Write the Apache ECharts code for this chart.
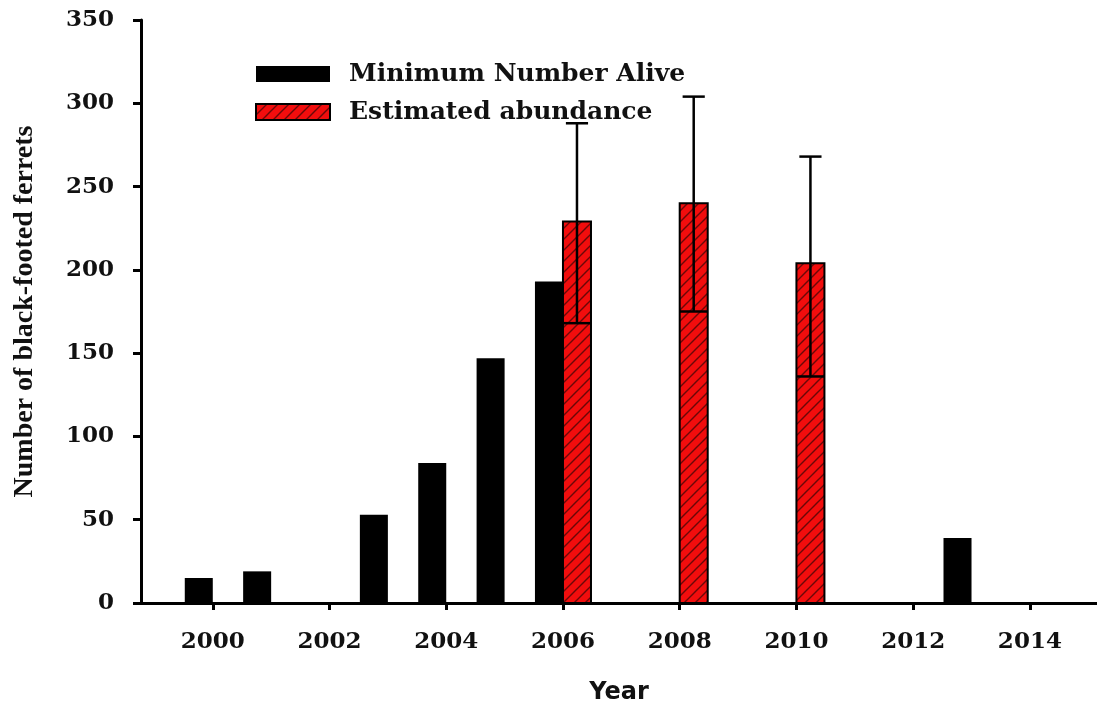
<!DOCTYPE html>
<html>
<head>
<meta charset="utf-8">
<title>Black-footed ferrets</title>
<script src="https://cdn.jsdelivr.net/npm/echarts@6/dist/echarts.min.js"></script>
<style>
  html, body { margin: 0; padding: 0; background: #fff; }
  #chart { width: 1097px; height: 709px; }
</style>
</head>
<body>
<div id="chart"></div>
<script>
// Minimum number alive (black bars, drawn just left of the year)
const mnaYears = [2000, 2001, 2003, 2004, 2005, 2006, 2013];
const mnaValues = [15, 19, 53, 84, 147, 193, 39];

// Estimated abundance (hatched red bars, drawn just right of the year) with error limits
const estYears = [2006, 2008, 2010];
const estValues = [229, 240, 204];
const estUpper = [288, 304, 268];
const estLower = [168, 175, 136];

const yearTicks = [2000, 2002, 2004, 2006, 2008, 2010, 2012, 2014];

const BAR_W = 0.48;   // bar width in years
const CAP_W = 0.38;   // upper cap width in years

// red fill with diagonal hatching
function hatchPattern() {
  const s = 11;
  const c = document.createElement('canvas');
  c.width = s; c.height = s;
  const g = c.getContext('2d');
  g.fillStyle = '#f20d0d';
  g.fillRect(0, 0, s, s);
  g.strokeStyle = '#6a0808';
  g.lineWidth = 1.4;
  g.beginPath();
  g.moveTo(-1, s + 1); g.lineTo(s + 1, -1);
  g.moveTo(-1, 1); g.lineTo(1, -1);
  g.moveTo(s - 1, s + 1); g.lineTo(s + 1, s - 1);
  g.stroke();
  return { image: c, repeat: 'repeat' };
}
const hatch = hatchPattern();

const chart = echarts.init(document.getElementById('chart'));

const serif = '"Liberation Serif", "Times New Roman", serif';
const wideSerif = '"DejaVu Serif", serif';

chart.setOption({
  backgroundColor: '#fff',
  animation: false,
  grid: { left: 141, right: 0, top: 20, bottom: 106, containLabel: false, outerBoundsMode: 'none' },
  legend: {
    orient: 'vertical',
    left: 250,
    top: 56,
    itemWidth: 74,
    itemHeight: 16,
    itemGap: 12,
    icon: 'rect',
    selectedMode: false,
    textStyle: {
      fontFamily: wideSerif, fontWeight: 'bold', fontSize: 25,
      color: '#111', lineHeight: 26, padding: [0, 0, 0, 14]
    },
    data: [
      { name: 'Minimum Number Alive', itemStyle: { color: '#000' } },
      { name: 'Estimated abundance', itemStyle: { color: hatch, borderColor: '#000', borderWidth: 2 } }
    ]
  },
  xAxis: {
    type: 'value',
    min: 1998.77,
    max: 2015.15,
    name: 'Year',
    nameLocation: 'middle',
    nameGap: 78,
    nameTextStyle: { fontFamily: '"DejaVu Sans", sans-serif', fontWeight: 'bold', fontSize: 24, color: '#111' },
    splitLine: { show: false },
    axisLine: { show: true, lineStyle: { color: '#000', width: 3 } },
    axisTick: { show: true, customValues: yearTicks, length: 7, lineStyle: { color: '#000', width: 3 } },
    axisLabel: {
      customValues: yearTicks,
      formatter: v => String(v),
      margin: 28,
      fontFamily: wideSerif, fontWeight: 'bold', fontSize: 23, color: '#111'
    }
  },
  yAxis: {
    type: 'value',
    min: 0,
    max: 350,
    interval: 50,
    name: 'Number of black-footed ferrets',
    nameLocation: 'middle',
    nameRotate: 90,
    nameGap: 102,
    nameTextStyle: { fontFamily: serif, fontWeight: 'bold', fontSize: 28, color: '#111' },
    splitLine: { show: false },
    axisLine: { show: true, lineStyle: { color: '#000', width: 3 } },
    axisTick: { show: true, length: 8, lineStyle: { color: '#000', width: 3 } },
    axisLabel: {
      margin: 27,
      fontFamily: wideSerif, fontWeight: 'bold', fontSize: 23, color: '#111'
    }
  },
  series: [
    {
      name: 'Minimum Number Alive',
      type: 'custom',
      itemStyle: { color: '#000' },
      data: mnaYears.map((y, i) => [y, mnaValues[i]]),
      encode: { x: 0, y: 1 },
      renderItem: (params, api) => {
        const base = api.coord([api.value(0), 0]);
        const top = api.coord([api.value(0), api.value(1)]);
        const w = api.size([BAR_W, 0])[0];
        return {
          type: 'rect',
          shape: { x: base[0] - w, y: top[1], width: w, height: base[1] - top[1] },
          style: { fill: '#000' }
        };
      },
      z: 3
    },
    {
      name: 'Estimated abundance',
      type: 'custom',
      itemStyle: { color: hatch },
      data: estYears.map((y, i) => [y, estValues[i], estLower[i], estUpper[i]]),
      encode: { x: 0, y: [1, 2, 3] },
      renderItem: (params, api) => {
        const x = api.value(0);
        const base = api.coord([x, 0]);
        const top = api.coord([x, api.value(1)]);
        const lo = api.coord([x, api.value(2)]);
        const hi = api.coord([x, api.value(3)]);
        const w = api.size([BAR_W, 0])[0];
        const cap = api.size([CAP_W, 0])[0];
        const cx = base[0] + w / 2;
        const line = { stroke: '#000', lineWidth: 2.5 };
        return {
          type: 'group',
          children: [
            {
              type: 'rect',
              shape: { x: base[0], y: top[1], width: w, height: base[1] - top[1] },
              style: { fill: hatch, stroke: '#000', lineWidth: 2 }
            },
            { type: 'line', shape: { x1: cx, y1: lo[1], x2: cx, y2: hi[1] }, style: line },
            { type: 'line', shape: { x1: cx - cap / 2, y1: hi[1], x2: cx + cap / 2, y2: hi[1] }, style: line },
            { type: 'line', shape: { x1: base[0], y1: lo[1], x2: base[0] + w, y2: lo[1] }, style: line }
          ]
        };
      },
      z: 3
    }
  ]
});
</script>
</body>
</html>
